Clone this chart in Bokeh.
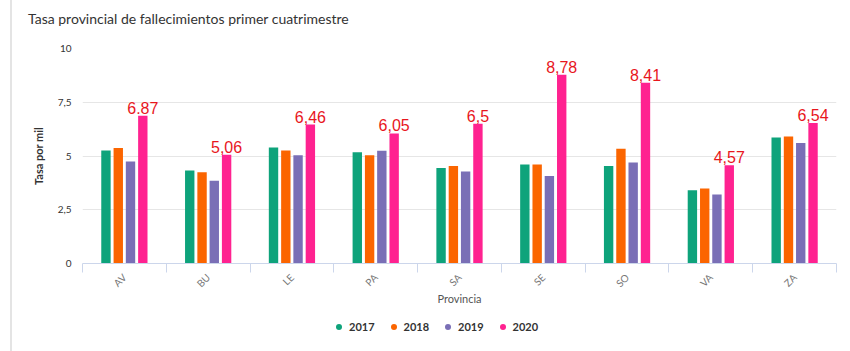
from bokeh.plotting import figure
from bokeh.layouts import column
from bokeh.models import (ColumnDataSource, FixedTicker, Legend, LegendItem, LabelSet, Div)
from bokeh.core.properties import value
from bokeh.embed import file_html
from bokeh.resources import INLINE

title_text = "Tasa provincial de fallecimientos primer cuatrimestre"
provincias = ["AV", "BU", "LE", "PA", "SA", "SE", "SO", "VA", "ZA"]
years = ["2017", "2018", "2019", "2020"]
v2017 = [5.26, 4.33, 5.40, 5.17, 4.44, 4.61, 4.53, 3.41, 5.86]
v2018 = [5.37, 4.25, 5.26, 5.03, 4.53, 4.61, 5.34, 3.49, 5.91]
v2019 = [4.75, 3.85, 5.04, 5.25, 4.28, 4.07, 4.70, 3.21, 5.60]
v2020 = [6.87, 5.06, 6.46, 6.05, 6.50, 8.78, 8.41, 4.57, 6.54]
labels2020 = ["6.87", "5,06", "6,46", "6,05", "6,5", "8,78", "8,41", "4,57", "6,54"]
y_ticks = [0, 2.5, 5, 7.5, 10]
y_tick_labels = ["0", "2,5", "5", "7,5", "10"]

series = [v2017, v2018, v2019, v2020]
colors = ["#0ea37b", "#fb6500", "#7a6fb6", "#ff2290"]
offsets = [-0.22, -0.073, 0.073, 0.22]

W = 850
H_TITLE, H_MAIN, H_LEG = 30, 281, 40

title_div = Div(text='<div style="padding:9px 0 0 28px;font-family:Lato;font-size:14px;'
                     'color:#333333;white-space:nowrap;">' + title_text + '</div>',
                width=W, height=H_TITLE, margin=0)

p = figure(width=W, height=H_MAIN, output_backend="svg", toolbar_location=None,
           x_range=(0, len(provincias)), y_range=(0, 10),
           min_border_left=82, min_border_right=14, min_border_top=18, min_border_bottom=48)
p.outline_line_color = None
p.background_fill_color = "white"
p.border_fill_alpha = 0

centers = [i + 0.5 for i in range(len(provincias))]
for vals, col, off, yr in zip(series, colors, offsets, years):
    src = ColumnDataSource(dict(x=[c + off for c in centers], top=vals))
    p.vbar(x="x", top="top", width=0.112, source=src, fill_color=col, line_color=None)

# data labels on 2020
lsrc = ColumnDataSource(dict(x=[c + offsets[3] for c in centers], y=v2020, t=labels2020))
p.add_layout(LabelSet(x="x", y="y", text="t", source=lsrc, y_offset=2,
                      text_align="center", text_baseline="bottom",
                      text_font=value("Liberation Sans"), text_font_size=value("16px"),
                      text_color="#e8161d"))

# x axis
xa = p.xaxis[0]
xa.ticker = FixedTicker(ticks=centers, minor_ticks=list(range(len(provincias) + 1)))
xa.major_label_overrides = {c: n for c, n in zip(centers, provincias)}
xa.major_tick_out = 0
xa.major_tick_in = 0
xa.minor_tick_out = 9
xa.minor_tick_in = 0
xa.minor_tick_line_color = "#ccd6eb"
xa.axis_line_color = "#ccd6eb"
xa.major_label_orientation = 0.785
xa.major_label_text_font = "Lato"
xa.major_label_text_font_size = "10px"
xa.major_label_text_color = "#777777"
xa.major_label_standoff = 3
xa.axis_label = "Provincia"
xa.axis_label_text_font = "Lato"
xa.axis_label_text_font_size = "11px"
xa.axis_label_text_font_style = "normal"
xa.axis_label_text_color = "#555555"
xa.axis_label_standoff = -5

# y axis
ya = p.yaxis[0]
ya.ticker = FixedTicker(ticks=y_ticks)
ya.major_label_overrides = {t: l for t, l in zip(y_ticks, y_tick_labels)}
ya.axis_line_color = None
ya.major_tick_out = 0
ya.major_tick_in = 0
ya.minor_tick_out = 0
ya.minor_tick_in = 0
ya.major_label_text_font = "Lato"
ya.major_label_text_font_size = "10px"
ya.major_label_text_color = "#333333"
ya.major_label_standoff = 11
ya.axis_label = "Tasa por mil"
ya.axis_label_text_font = "Lato"
ya.axis_label_text_font_size = "11px"
ya.axis_label_text_font_style = "bold"
ya.axis_label_text_color = "#333333"
ya.axis_label_standoff = 10

p.xgrid.grid_line_color = None
p.ygrid.grid_line_color = "#e6e6e6"
p.ygrid.ticker = FixedTicker(ticks=y_ticks)

# legend figure
lf = figure(width=W, height=H_LEG, output_backend="svg", toolbar_location=None,
            x_range=(0, 1), y_range=(0, 1), x_axis_type=None, y_axis_type=None,
            min_border=0)
lf.outline_line_color = None
lf.border_fill_alpha = 0
lf.background_fill_alpha = 0
lf.xgrid.visible = False
lf.ygrid.visible = False
items = []
for col, yr in zip(colors, years):
    r = lf.scatter(x=[-10], y=[-10], marker="circle", size=10, fill_color=col, line_color=None)
    items.append(LegendItem(label=yr, renderers=[r]))
leg = Legend(items=items, orientation="horizontal", location=(249, 17),
             label_text_font="Lato", label_text_font_style="bold", label_text_font_size="11px",
             label_text_color="#333333", glyph_width=15, glyph_height=15,
             label_standoff=3, spacing=11, padding=0, margin=0,
             border_line_color=None, background_fill_alpha=0)
lf.add_layout(leg, "center")

layout = column(title_div, p, lf, spacing=0)
layout.styles = {"background": "linear-gradient(to right, white 10px, #e4e4e4 10px, "
                               "#e4e4e4 12px, white 12px)"}

open("out.html", "w").write(file_html(layout, INLINE))
